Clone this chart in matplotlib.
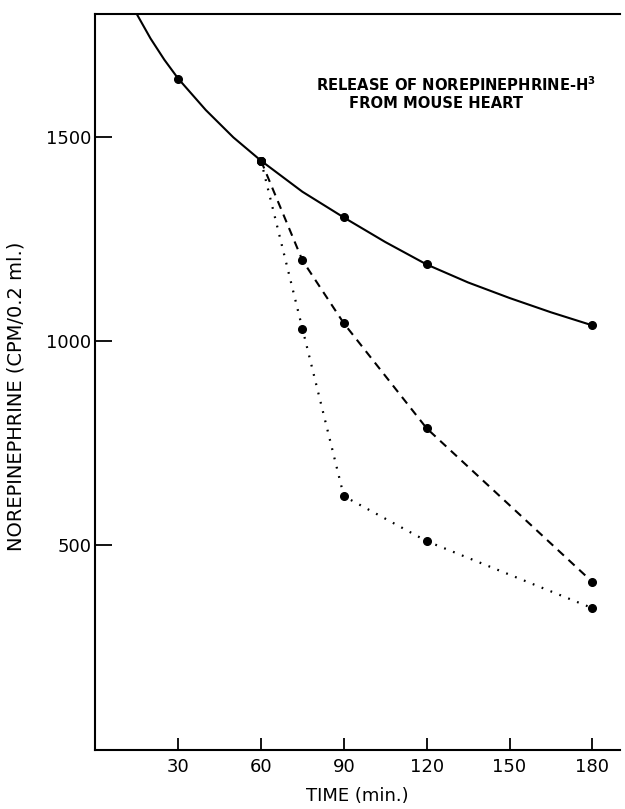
import matplotlib.pyplot as plt

# -------------------------------------------------------
# DATA (time in min, CPM / 0.2 ml)
# -------------------------------------------------------
# control curve: measured points + points read along the drawn curve
control_t = [30, 60, 90, 120, 180]
control_y = [1642, 1441, 1302, 1187, 1038]
curve_t = [15, 20, 25, 30, 40, 50, 60, 75, 90, 105, 120, 135, 150, 165, 180]
curve_y = [1800, 1740, 1688, 1642, 1565, 1498, 1441, 1365, 1302, 1242, 1187, 1143, 1105, 1070, 1038]

dashed_t = [60, 75, 90, 120, 180]
dashed_y = [1441, 1197, 1043, 786, 410]

dotted_t = [60, 75, 90, 120, 180]
dotted_y = [1441, 1030, 620, 510, 346]

x_ticks = [30, 60, 90, 120, 150, 180]
y_ticks = [500, 1000, 1500]

# -------------------------------------------------------
# FIGURE
# -------------------------------------------------------
fig = plt.figure(figsize=(6.25, 8.09), dpi=100)
ax = fig.add_axes([0.1525, 0.0735, 0.8395, 0.9092])

ax.plot(curve_t, curve_y, color="black", linewidth=1.5)
ax.plot(control_t, control_y, "o", color="black", markersize=5.5)

ax.plot(dashed_t, dashed_y, color="black", linewidth=1.5,
        linestyle=(0, (4, 3)), marker="o", markersize=5.5)
ax.plot(dotted_t, dotted_y, color="black", linewidth=1.6,
        linestyle=(0, (0.8, 3.5)), marker="o", markersize=5.5)

ax.set_xlim(0, 190)
ax.set_ylim(0, 1800)

ax.spines["right"].set_visible(False)
for side in ["left", "bottom", "top"]:
    ax.spines[side].set_linewidth(1.5)

ax.set_xticks(x_ticks)
ax.set_yticks(y_ticks)
ax.tick_params(axis="y", direction="in", length=12, width=1.3, labelsize=13, pad=3)
ax.tick_params(axis="x", direction="in", length=9, width=1.3, labelsize=13, pad=6)

ax.set_xlabel("TIME (min.)", fontsize=13, labelpad=8)
ax.set_ylabel("NOREPINEPHRINE (CPM/0.2 ml.)", fontsize=14)
ax.yaxis.set_label_coords(-0.133, 0.48)

ax.text(80, 1627, "RELEASE OF NOREPINEPHRINE-H$^{\\mathbf{3}}$", fontsize=10.6,
        fontweight="bold", ha="left", va="center")
ax.text(92, 1581, "FROM MOUSE HEART", fontsize=10.6,
        fontweight="bold", ha="left", va="center")

plt.savefig("out.png", dpi=100)
plt.close()
